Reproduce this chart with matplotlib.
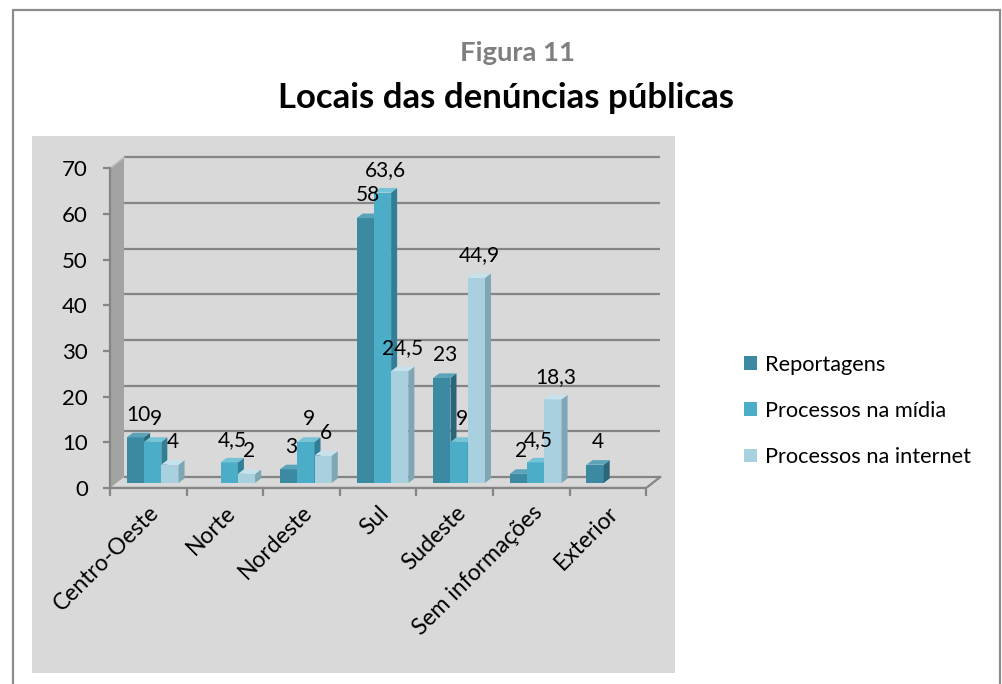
import matplotlib
matplotlib.use("Agg")
import matplotlib.pyplot as plt
from matplotlib.patches import Rectangle, Polygon
import numpy as np

plt.rcParams['font.family'] = ['Lato', 'DejaVu Sans']

categories = ["Centro-Oeste", "Norte", "Nordeste", "Sul", "Sudeste",
              "Sem informações", "Exterior"]
series_names = ["Reportagens", "Processos na mídia", "Processos na internet"]
reportagens = [10, np.nan, 3, 58, 23, 2, 4]
midia = [9, 4.5, 9, 63.6, 9, 4.5, np.nan]
internet = [4, 2, 6, 24.5, 44.9, 18.3, np.nan]
series = [reportagens, midia, internet]
yticks = [0, 10, 20, 30, 40, 50, 60, 70]

front_colors = ["#3b8aa2", "#4badc7", "#a9d0df"]
side_colors = ["#2a6679", "#317f96", "#7fa6b5"]
top_colors = ["#5aa3b9", "#74c3d6", "#c6e2ec"]

W, H = 1002, 684
fig = plt.figure(figsize=(W / 100, H / 100), dpi=100)
fig.patch.set_facecolor("white")


def px(x0, y0, x1, y1):
    # figure fraction rect from pixel box (top-left origin)
    return [x0 / W, 1 - y1 / H, (x1 - x0) / W, (y1 - y0) / H]


# outer frame and chart area
fig.patches.append(Rectangle((13 / W, -0.05), (1000 - 13) / W, 1.05 - 10 / H,
                             transform=fig.transFigure, fill=False,
                             edgecolor="#8c8c8c", linewidth=1.6, zorder=-10))
b = px(32, 136, 675, 673)
fig.patches.append(Rectangle((b[0], b[1]), b[2], b[3], transform=fig.transFigure,
                             facecolor="#d9d9d9", edgecolor="none", zorder=-10))

fig.text(518 / W, 1 - 53 / H, "Figura 11", ha="center", va="center",
         fontsize=19.7, fontweight="bold", color="#7f7f7f")
fig.text(506 / W, 1 - 98 / H, "Locais das denúncias públicas", ha="center",
         va="center", fontsize=25, fontweight="bold", color="black")

cat_px = 76.6
unit_px = 4.567
ax = fig.add_axes(px(110, 140, 675, 488))
ax.set_xlim(-0.5, -0.5 + 565 / cat_px)
ax.set_ylim(0, 348 / unit_px)
ax.set_facecolor("none")

# 3d walls
dx, dy = 14 / cat_px, 11 / unit_px
n = len(categories)
x0, x1 = -0.5, n - 0.5
ax.add_patch(Polygon([(x0, 0), (x0 + dx, dy), (x0 + dx, 70 + dy), (x0, 70)],
                     closed=True, facecolor="#a3a3a3", edgecolor="none", zorder=1))
for v in yticks:
    ax.plot([x0 + dx, x1 + dx], [v + dy, v + dy], color="#858585", lw=1.6,
            zorder=1.5, solid_capstyle="butt")
ax.plot([x0, x1, x1 + dx], [0, 0, dy], color="#858585", lw=1.6, zorder=1.5)
ax.plot([x0, x0 + dx], [70, 70 + dy], color="#bdbdbd", lw=1.0, zorder=1.5)

# bars
w = 0.225
base = 1.1
bdx, bdy = 6 / cat_px, 1.0
for i in range(n):
    for j, vals in enumerate(series):
        v = vals[i]
        if np.isnan(v):
            continue
        left = i - 0.28 + j * w
        top = base + v
        z = 3 + i + j * 0.1
        ax.bar(left, v, w, bottom=base, align="edge", color=front_colors[j],
               edgecolor="none", zorder=z)
        ax.add_patch(Polygon([(left + w, base), (left + w + bdx, base + bdy),
                              (left + w + bdx, top + bdy), (left + w, top)],
                             closed=True, facecolor=side_colors[j],
                             edgecolor="none", zorder=z))
        ax.add_patch(Polygon([(left, top), (left + bdx, top + bdy),
                              (left + w + bdx, top + bdy), (left + w, top)],
                             closed=True, facecolor=top_colors[j],
                             edgecolor="none", zorder=z))
        ax.annotate(f"{v:g}".replace(".", ","),
                    xy=(left + (w + bdx) / 2, top + bdy), xytext=(0, 13),
                    textcoords="offset points", ha="center", va="center",
                    fontsize=15, color="black", zorder=20)

# axes styling
for s in ["top", "right"]:
    ax.spines[s].set_visible(False)
ax.spines["left"].set_bounds(0, 70)
ax.spines["bottom"].set_bounds(x0, x1)
for s in ["left", "bottom"]:
    ax.spines[s].set_color("#858585")
    ax.spines[s].set_linewidth(1.6)
ax.set_yticks(yticks)
ax.tick_params(axis="y", length=5, width=1.6, color="#858585", pad=11,
               labelsize=16)
ax.set_xticks(range(n))
ax.set_xticklabels(categories, rotation=45, ha="right", va="top",
                   rotation_mode="anchor", fontsize=16.5)
ax.set_xticks(np.arange(-0.5, n), minor=True)
ax.tick_params(axis="x", which="major", length=0, pad=10)
ax.tick_params(axis="x", which="minor", length=6, width=1.6, color="#858585")

handles = [Rectangle((0, 0), 1, 1, facecolor=c, edgecolor="none")
           for c in front_colors]
fig.legend(handles, series_names, loc="center left",
           bbox_to_anchor=(744 / W, 1 - 411 / H), bbox_transform=fig.transFigure,
           frameon=False, fontsize=15.7, handlelength=0.6, handleheight=0.6,
           handletextpad=0.35, labelspacing=1.2, borderpad=0, borderaxespad=0)

fig.savefig("out.png", dpi=100)
